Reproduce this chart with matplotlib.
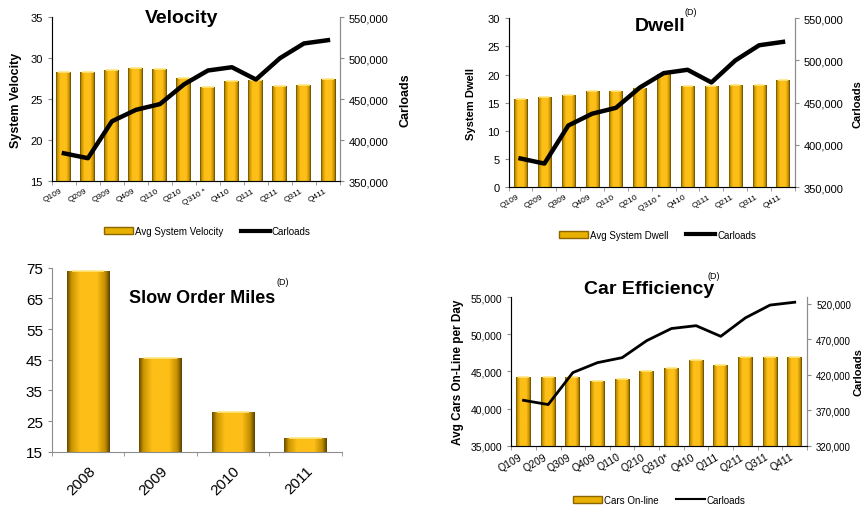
import numpy as np
import matplotlib.pyplot as plt
from matplotlib.colors import LinearSegmentedColormap
from matplotlib.patches import Patch
from matplotlib.lines import Line2D
from matplotlib.ticker import FuncFormatter, MultipleLocator

plt.rcParams['font.family'] = ['Liberation Sans', 'DejaVu Sans']

quarters = ['Q109', 'Q209', 'Q309', 'Q409', 'Q110', 'Q210', 'Q310 *', 'Q410',
            'Q111', 'Q211', 'Q311', 'Q411']
quarters_car = ['Q109', 'Q209', 'Q309', 'Q409', 'Q110', 'Q210', 'Q310*', 'Q410',
                'Q111', 'Q211', 'Q311', 'Q411']
carloads = [384000, 378000, 423000, 437000, 444000, 468000, 485000, 489000,
            474000, 500000, 518000, 522000]
velocity = [28.3, 28.3, 28.6, 28.8, 28.7, 27.6, 26.5, 27.2, 27.3, 26.6, 26.7, 27.5]
dwell = [15.7, 16.0, 16.3, 17.0, 17.1, 17.7, 20.1, 18.0, 17.9, 18.1, 18.2, 19.1]
years = ['2008', '2009', '2010', '2011']
slow_miles = [74, 45.5, 28, 19.5]
cars_online = [44300, 44200, 44200, 43700, 44000, 45100, 45500, 46500, 45900,
               47000, 46900, 47000]

gold = LinearSegmentedColormap.from_list(
    'gold', [(0.0, '#6b4e00'), (0.1, '#c99500'), (0.3, '#fdbf17'),
             (0.7, '#fdbf17'), (0.9, '#c08c00'), (1.0, '#5e4400')])
grad = np.linspace(0, 1, 64).reshape(1, -1)
spine_col = '#8c8c8c'


def gold_bars(ax, x, h, width, base):
    bars = ax.bar(x, np.array(h) - base, width, bottom=base, color='none',
                  edgecolor='none', zorder=2)
    for b in bars:
        x0, y0 = b.get_x(), b.get_y()
        im = ax.imshow(grad, cmap=gold, aspect='auto', zorder=2,
                       extent=(x0, x0 + b.get_width(), y0, y0 + b.get_height()))
        im.set_clip_path(b)
        # light bevel along the top edge
        ax.plot([x0 + b.get_width() * 0.12, x0 + b.get_width() * 0.88],
                [y0 + b.get_height()] * 2, color='#ffe680', lw=1.2, zorder=3,
                solid_capstyle='butt')
    return bars


def style_axes(ax, n):
    ax.spines['top'].set_visible(False)
    for s in ['left', 'bottom', 'right']:
        ax.spines[s].set_color(spine_col)
    ax.set_xlim(-0.5, n - 0.5)
    ax.set_xticks(np.arange(n))
    ax.set_xticks(np.arange(n + 1) - 0.5, minor=True)
    ax.tick_params(axis='x', which='major', length=0, pad=4)
    ax.tick_params(axis='x', which='minor', length=3, color=spine_col)
    ax.tick_params(axis='y', length=3, color=spine_col)


def carload_axis(ax, lw, ylim, ticks, size):
    axr = ax.twinx()
    axr.plot(np.arange(len(carloads)), carloads, color='black', lw=lw, zorder=5)
    axr.set_ylim(*ylim)
    axr.set_yticks(ticks)
    axr.yaxis.set_major_formatter(thousands)
    axr.tick_params(axis='y', labelsize=size, length=3, color=spine_col)
    axr.spines['top'].set_visible(False)
    axr.spines['right'].set_color(spine_col)
    return axr


def quarter_legend(ax, bar_label, lw, anchor):
    ax.legend(handles=[Patch(facecolor='#e8b000', edgecolor='#8a6500', label=bar_label),
                       Line2D([], [], color='black', lw=lw, label='Carloads')],
              loc='upper center', bbox_to_anchor=anchor, ncol=2, frameon=False,
              fontsize=7, handlelength=3.0, handleheight=0.7, columnspacing=1.8,
              handletextpad=0.2)


thousands = FuncFormatter(lambda v, p: f'{v:,.0f}')
fig = plt.figure(figsize=(8.65, 5.06), dpi=100)
x = np.arange(len(quarters))
carload_ticks = np.arange(350000, 550001, 50000)

# Velocity
ax1 = fig.add_axes([0.060, 0.640, 0.333, 0.324])
gold_bars(ax1, x, velocity, 0.62, 15)
style_axes(ax1, len(quarters))
ax1.set_ylim(15, 35)
ax1.yaxis.set_major_locator(MultipleLocator(5))
ax1.set_xticklabels(quarters, rotation=30, fontsize=6, ha='right')
ax1.set_ylabel('System Velocity', fontsize=9, fontweight='bold', labelpad=6)
ax1.tick_params(axis='y', labelsize=8)
ax1r = carload_axis(ax1, 3.2, (350000, 550000), carload_ticks, 8)
ax1r.set_ylabel('Carloads', fontsize=9, fontweight='bold', labelpad=8)
ax1.text(0.45, 1.0, 'Velocity', transform=ax1.transAxes, fontsize=14,
         fontweight='bold', ha='center', va='center')
quarter_legend(ax1, 'Avg System Velocity', 3, (0.54, -0.22))

# Dwell
ax2 = fig.add_axes([0.588, 0.628, 0.331, 0.334])
gold_bars(ax2, x, dwell, 0.55, 0)
style_axes(ax2, len(quarters))
ax2.set_ylim(0, 30)
ax2.yaxis.set_major_locator(MultipleLocator(5))
ax2.set_xticklabels(quarters, rotation=30, fontsize=6, ha='right')
ax2.set_ylabel('System Dwell', fontsize=8, fontweight='bold', labelpad=8)
ax2.tick_params(axis='y', labelsize=8)
ax2r = carload_axis(ax2, 3.2, (350000, 550000), carload_ticks, 8)
ax2r.set_ylabel('Carloads', fontsize=8, fontweight='bold', labelpad=6)
ax2.text(0.53, 0.955, 'Dwell', transform=ax2.transAxes, fontsize=14,
         fontweight='bold', ha='center', va='center')
ax2.text(0.637, 1.04, '(D)', transform=ax2.transAxes, fontsize=6.5,
         ha='center', va='center')
quarter_legend(ax2, 'Avg System Dwell', 3, (0.52, -0.2))

# Slow Order Miles
ax3 = fig.add_axes([0.060, 0.105, 0.335, 0.364])
xs = np.arange(len(years))
gold_bars(ax3, xs, slow_miles, 0.59, 15)
style_axes(ax3, len(years))
ax3.set_ylim(15, 75)
ax3.set_yticks(np.arange(15, 76, 10))
ax3.set_xticklabels(years, rotation=45, fontsize=11, ha='right', rotation_mode='anchor')
ax3.tick_params(axis='x', which='major', pad=8)
ax3.tick_params(axis='y', labelsize=11)
ax3.spines['right'].set_visible(False)
ax3.text(0.517, 0.84, 'Slow Order Miles', transform=ax3.transAxes, fontsize=13,
         fontweight='bold', ha='center', va='center')
ax3.text(0.795, 0.924, '(D)', transform=ax3.transAxes, fontsize=6.5,
         ha='center', va='center')

# Car Efficiency
ax4 = fig.add_axes([0.591, 0.117, 0.342, 0.294])
gold_bars(ax4, x, cars_online, 0.6, 35000)
style_axes(ax4, len(quarters))
ax4.set_ylim(35000, 55000)
ax4.yaxis.set_major_locator(MultipleLocator(5000))
ax4.yaxis.set_major_formatter(thousands)
ax4.set_xticklabels(quarters_car, rotation=30, fontsize=7.5, ha='right')
ax4.set_ylabel('Avg Cars On-Line per Day', fontsize=8.5, fontweight='bold', labelpad=5)
ax4.tick_params(axis='y', labelsize=7.5)
ax4r = carload_axis(ax4, 2, (320000, 529300), np.arange(320000, 520001, 50000), 7)
ax4r.set_ylabel('Carloads', fontsize=8, fontweight='bold')
ax4r.yaxis.set_label_coords(1.158, 0.5)
ax4.text(0.466, 1.06, 'Car Efficiency', transform=ax4.transAxes, fontsize=14,
         fontweight='bold', ha='center', va='center')
ax4.text(0.686, 1.148, '(D)', transform=ax4.transAxes, fontsize=6.5,
         ha='center', va='center')
quarter_legend(ax4, 'Cars On-line', 1.5, (0.5, -0.27))

fig.savefig('out.png', dpi=100)
